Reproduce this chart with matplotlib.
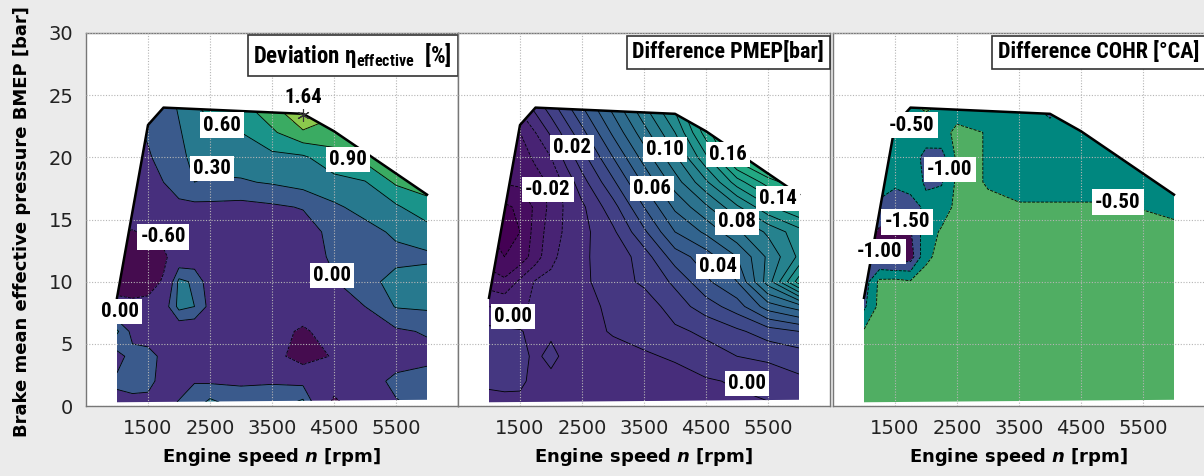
import matplotlib
matplotlib.use("Agg")
import matplotlib.pyplot as plt
import numpy as np
from matplotlib.patches import Polygon
from matplotlib.colors import Normalize

plt.rcParams["mathtext.fontset"] = "custom"
plt.rcParams["mathtext.rm"] = "Roboto Condensed:bold"
plt.rcParams["mathtext.it"] = "DejaVu Sans:italic:bold"
plt.rcParams["mathtext.bf"] = "DejaVu Sans:bold"

# grid of the maps (engine speed in rpm, BMEP in bar)
speed = [1000, 1250, 1500, 1750, 2000, 2250, 2500, 3000, 3500, 4000, 4500, 5000, 5500, 6000]
bmep = [0, 2, 4, 6, 8, 10, 12, 14, 16, 18, 20, 22, 24]

# full load curve / measured area
full_load_speed = [1000, 1000, 1500, 1750, 4000, 4500, 6000, 6000]
full_load_bmep = [0.3, 8.7, 22.6, 24.0, 23.5, 22.1, 17.0, 0.5]

# deviation of effective efficiency [%], rows = bmep, cols = speed
eta_dev = [
    [-0.10, -0.10, -0.15, -0.10, 0.05, 0.20, 0.45, 0.20, 0.20, 0.45, -0.80, -0.20, -0.05, 0.10],
    [0.05, 0.10, 0.12, -0.15, -0.15, -0.02, -0.05, -0.05, -0.03, -0.10, -0.30, -0.20, 0.10, 0.15],
    [-0.10, 0.10, 0.15, -0.10, -0.25, -0.30, -0.30, -0.30, -0.40, -0.85, -0.55, -0.30, -0.20, -0.10],
    [0.35, -0.10, -0.25, -0.30, -0.30, -0.30, -0.30, -0.35, -0.40, -0.68, -0.35, -0.15, -0.05, 0.03],
    [-0.40, -0.45, -0.45, -0.20, 0.40, 0.30, -0.10, -0.30, -0.30, -0.30, -0.15, 0.00, 0.32, 0.35],
    [-0.85, -0.90, -0.80, -0.55, 0.38, 0.25, -0.20, -0.30, -0.30, -0.25, -0.02, 0.20, 0.40, 0.42],
    [-0.80, -0.85, -0.80, -0.70, -0.30, -0.25, -0.25, -0.30, -0.25, -0.15, 0.05, 0.15, 0.22, 0.25],
    [-0.58, -0.62, -0.55, -0.40, -0.30, -0.25, -0.20, -0.20, -0.20, -0.15, 0.10, 0.20, 0.35, 0.45],
    [-0.45, -0.40, -0.30, -0.15, -0.10, -0.08, -0.08, -0.10, -0.05, 0.02, 0.25, 0.40, 0.55, 0.82],
    [-0.40, -0.30, -0.15, 0.00, 0.20, 0.30, 0.28, 0.27, 0.33, 0.42, 0.50, 0.58, 0.95, 1.00],
    [-0.35, -0.25, -0.05, 0.15, 0.28, 0.32, 0.35, 0.45, 0.52, 0.55, 0.80, 1.00, 1.05, 1.05],
    [-0.20, -0.10, 0.05, 0.15, 0.28, 0.40, 0.50, 0.60, 0.85, 1.15, 1.05, 1.00, 1.00, 1.00],
    [0.00, 0.05, 0.10, 0.20, 0.32, 0.55, 0.70, 0.80, 1.10, 1.64, 1.30, 1.20, 1.10, 1.00],
]
eta_levels = [-1.0, -0.6, 0.0, 0.3, 0.6, 0.9, 1.2, 1.8]
eta_colors = ["#450c4f", "#472f7d", "#3a5a8c", "#27798e", "#1a948a", "#3aab62", "#8cc94c"]
eta_max = 1.64
eta_max_speed = 4000
eta_max_bmep = 23.4
eta_labels = ["0.60", "0.30", "0.90", "-0.60", "0.00", "0.00"]

# difference of PMEP [bar]
pmep_diff = [
    [-0.004, -0.004, -0.003, -0.005, -0.006, -0.007, -0.008, -0.008, -0.007, -0.006, -0.004, -0.002, -0.001, 0.001],
    [0.002, 0.003, 0.002, -0.003, -0.003, -0.004, -0.006, -0.006, -0.005, -0.003, -0.001, 0.001, 0.004, 0.008],
    [0.004, 0.005, 0.003, -0.002, 0.003, -0.003, -0.005, -0.004, -0.001, 0.001, 0.006, 0.010, 0.012, 0.015],
    [0.003, 0.002, 0.001, -0.004, -0.002, -0.005, -0.004, 0.001, 0.003, 0.008, 0.012, 0.018, 0.025, 0.030],
    [-0.010, -0.012, -0.012, -0.008, -0.006, -0.005, -0.003, 0.002, 0.004, 0.015, 0.025, 0.035, 0.055, 0.065],
    [-0.025, -0.028, -0.018, -0.009, -0.008, -0.006, -0.002, 0.005, 0.012, 0.022, 0.038, 0.050, 0.085, 0.125],
    [-0.035, -0.040, -0.036, -0.025, -0.012, -0.007, -0.001, 0.003, 0.015, 0.035, 0.045, 0.060, 0.082, 0.102],
    [-0.040, -0.044, -0.040, -0.026, -0.015, -0.008, -0.003, 0.008, 0.028, 0.050, 0.062, 0.078, 0.092, 0.106],
    [-0.040, -0.042, -0.038, -0.028, -0.017, -0.008, -0.002, 0.016, 0.040, 0.062, 0.078, 0.098, 0.118, 0.130],
    [-0.030, -0.029, -0.028, -0.024, -0.018, -0.006, 0.006, 0.028, 0.052, 0.075, 0.098, 0.125, 0.145, 0.158],
    [-0.028, -0.027, -0.025, -0.018, -0.010, 0.004, 0.016, 0.040, 0.064, 0.088, 0.118, 0.155, 0.172, 0.182],
    [-0.025, -0.022, -0.020, -0.010, 0.002, 0.015, 0.027, 0.052, 0.076, 0.100, 0.135, 0.168, 0.185, 0.195],
    [-0.020, -0.015, -0.008, 0.003, 0.015, 0.027, 0.039, 0.063, 0.088, 0.112, 0.145, 0.175, 0.190, 0.200],
]
pmep_labels = ["0.02", "-0.02", "0.10", "0.06", "0.16", "0.14", "0.08", "0.04", "0.00", "0.00"]

# difference of combustion (COHR) [deg CA]
cohr_diff = [
    [-0.30, -0.30, -0.30, -0.30, -0.30, -0.30, -0.30, -0.30, -0.30, -0.30, -0.30, -0.30, -0.30, -0.30],
    [-0.30, -0.30, -0.30, -0.30, -0.30, -0.30, -0.30, -0.30, -0.30, -0.30, -0.30, -0.30, -0.30, -0.30],
    [-0.30, -0.30, -0.30, -0.30, -0.30, -0.30, -0.30, -0.30, -0.30, -0.30, -0.30, -0.30, -0.30, -0.30],
    [-0.45, -0.30, -0.30, -0.30, -0.30, -0.30, -0.30, -0.30, -0.30, -0.30, -0.30, -0.30, -0.30, -0.30],
    [-1.10, -0.35, -0.30, -0.30, -0.30, -0.30, -0.30, -0.30, -0.30, -0.30, -0.30, -0.30, -0.30, -0.30],
    [-1.30, -0.38, -0.35, -0.45, -0.30, -0.30, -0.30, -0.30, -0.30, -0.30, -0.30, -0.30, -0.30, -0.30],
    [-1.30, -1.65, -1.80, -1.75, -0.60, -0.35, -0.30, -0.30, -0.30, -0.30, -0.30, -0.30, -0.30, -0.30],
    [-1.20, -1.60, -1.70, -1.55, -0.70, -0.45, -0.40, -0.30, -0.30, -0.30, -0.30, -0.30, -0.35, -0.40],
    [-0.75, -1.10, -1.30, -1.20, -0.90, -0.70, -0.40, -0.45, -0.45, -0.45, -0.45, -0.45, -0.52, -0.60],
    [-0.75, -0.80, -0.90, -0.80, -1.05, -1.05, -0.40, -0.52, -0.70, -0.70, -0.70, -0.70, -0.65, -0.65],
    [-0.75, -0.75, -0.75, -0.75, -1.15, -1.20, -0.40, -0.52, -0.70, -0.70, -0.70, -0.70, -0.70, -0.70],
    [-0.70, -0.70, -0.70, -0.70, -0.75, -0.65, -0.40, -0.52, -0.70, -0.80, -0.70, -0.70, -0.70, -0.70],
    [-0.70, -0.70, -0.60, -0.55, -0.45, -0.55, -0.70, -0.70, -0.80, -1.15, -0.70, -0.70, -0.70, -0.70],
]
cohr_levels = [-2.0, -1.5, -1.0, -0.5, 0.0]
cohr_colors = ["#47094f", "#3e4f8c", "#00877f", "#50ae63"]
cohr_labels = ["-0.50", "-1.00", "-0.50", "-1.50", "-1.00"]

label_font = ["Roboto Condensed", "DejaVu Sans"]

fig = plt.figure(figsize=(12.04, 4.76), dpi=100, facecolor="#ebebeb")
w = 372 / 1204
h = 373 / 476
b = 70 / 476
ax1 = fig.add_axes([86 / 1204, b, w, h])
ax2 = fig.add_axes([458 / 1204, b, w, h])
ax3 = fig.add_axes([833 / 1204, b, w, h])

X, Y = np.meshgrid(speed, bmep)


def setup(ax, show_y):
    ax.set_facecolor("white")
    ax.set_xlim(500, 6500)
    ax.set_ylim(0, 30)
    ax.set_xticks([1500, 2500, 3500, 4500, 5500])
    ax.set_yticks([0, 5, 10, 15, 20, 25, 30])
    ax.tick_params(length=0, labelsize=14, pad=9, colors="#222222")
    if not show_y:
        ax.set_yticklabels([])
    ax.set_axisbelow(False)
    ax.grid(True, color="#b5b5b5", linestyle=(0, (1, 1.5)), linewidth=0.8)
    for s in ax.spines.values():
        s.set_color("#777777")
        s.set_linewidth(1.0)
    ax.set_xlabel(r"Engine speed $\mathit{n}$ [rpm]", fontsize=13, fontweight="bold", labelpad=6)


def draw_map(ax, Z, levels, colors=None, cmap=None, norm=None):
    area = Polygon(np.column_stack([full_load_speed, full_load_bmep]), closed=True,
                   transform=ax.transData)
    Z = np.array(Z)
    if colors is not None:
        cf = ax.contourf(X, Y, Z, levels=levels, colors=colors, zorder=1)
    else:
        cf = ax.contourf(X, Y, Z, levels=levels, cmap=cmap, norm=norm, zorder=1)
    cf.set_clip_path(area)
    cl = ax.contour(X, Y, Z, levels=levels[1:-1], colors="k", linewidths=0.6, zorder=2)
    cl.set_clip_path(area)
    ax.plot(full_load_speed[1:-1], full_load_bmep[1:-1], color="k", lw=1.8, zorder=4)


def put_labels(ax, texts, positions):
    for t, (x, y) in zip(texts, positions):
        ax.text(x, y, t, ha="center", va="center", fontsize=15, fontweight="bold",
                family=label_font, fontstretch="condensed", zorder=6,
                bbox=dict(boxstyle="square,pad=0.15", fc="white", ec="none"))


def put_title(ax, t, size=16):
    ax.text(0.984, 0.978, t, transform=ax.transAxes, ha="right", va="top",
            fontsize=size, fontweight="bold", family=label_font, fontstretch="condensed",
            zorder=7, bbox=dict(boxstyle="square,pad=0.25", fc="white", ec="#333333", lw=1.2))


for ax in (ax1, ax2, ax3):
    setup(ax, ax is ax1)

# panel 1
draw_map(ax1, eta_dev, eta_levels, colors=eta_colors)
put_labels(ax1, eta_labels, [(2694, 22.6), (2530, 19.1), (4725, 19.8),
                             (1745, 13.6), (4470, 10.5), (1050, 7.6)])
ax1.plot(eta_max_speed, eta_max_bmep, marker=(6, 2, 0), ms=9, mew=0.8,
         color="#333333", zorder=5)
ax1.text(eta_max_speed, eta_max_bmep + 1.4, "%.2f" % eta_max, ha="center", va="center",
         fontsize=15, fontweight="bold", family=label_font, fontstretch="condensed", zorder=6)
put_title(ax1, r"Deviation η$_{\mathrm{effective}}$  [%]", size=16.5)

# panel 2
pmep_levels = np.round(np.arange(-0.05, 0.215, 0.01), 2)
draw_map(ax2, pmep_diff, pmep_levels, cmap="viridis", norm=Normalize(-0.045, 0.27))
put_labels(ax2, pmep_labels, [(2339, 20.8), (1952, 17.4), (3839, 20.6), (3629, 17.5),
                              (4855, 20.2), (5661, 16.7), (5000, 14.8), (4694, 11.2),
                              (1387, 7.2), (5161, 1.8)])
put_title(ax2, "Difference PMEP[bar]")

# panel 3
draw_map(ax3, cohr_diff, cohr_levels, colors=cohr_colors)
put_labels(ax3, cohr_labels, [(1774, 22.6), (2387, 19.0), (5097, 16.4),
                              (1694, 14.8), (1258, 12.4)])
put_title(ax3, "Difference COHR [°CA]")

fig.text(0.018, 0.535, "Brake mean effective pressure BMEP [bar]", rotation=90,
         ha="center", va="center", fontsize=13, fontweight="bold")

fig.savefig("out.png", dpi=100, facecolor=fig.get_facecolor())
